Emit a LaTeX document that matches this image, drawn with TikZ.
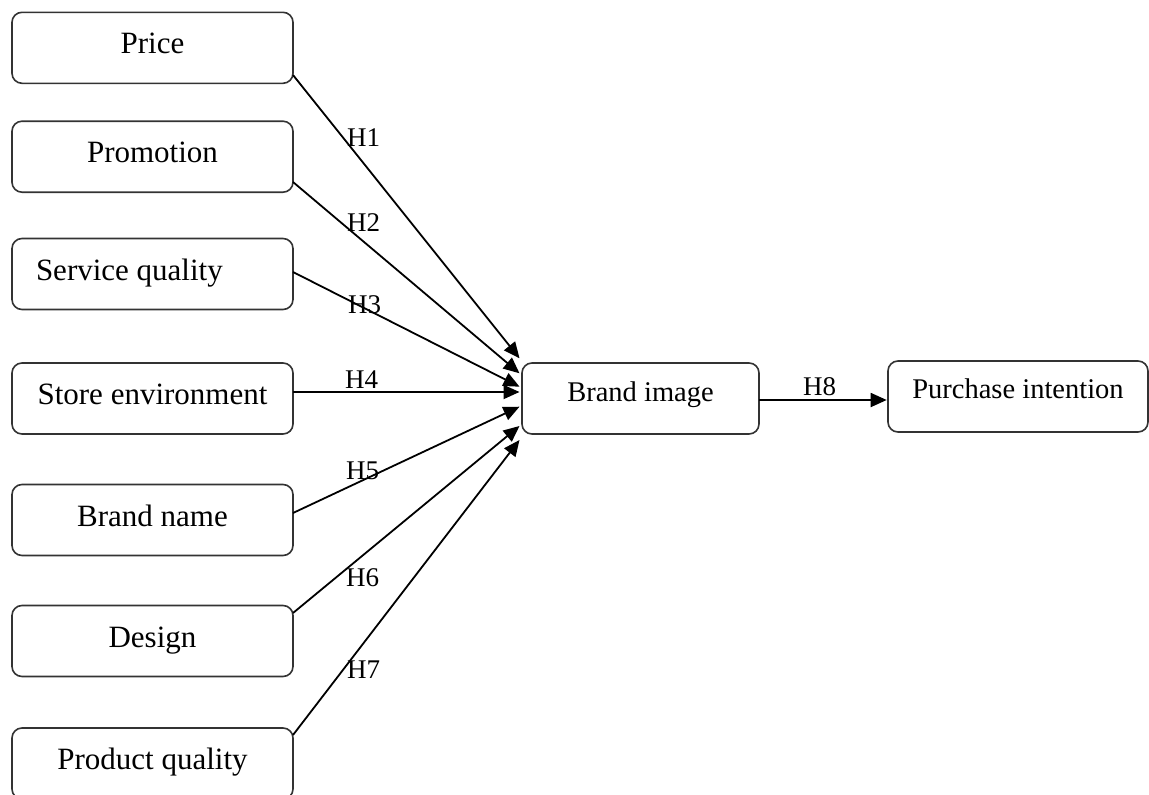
\documentclass[tikz,border=0pt]{standalone}
\usepackage{fontspec}
\setmainfont{Liberation Serif}
\usetikzlibrary{arrows.meta,calc}

\begin{document}
\begin{tikzpicture}[x=1pt,y=-1pt,
  factor/.style={draw=black!80, line width=1.6pt, rounded corners=10pt,
    minimum width=281pt, minimum height=71pt, inner sep=0pt, outer sep=0pt,
    font=\fontsize{31}{36}\selectfont, text height=21pt, text depth=9pt},
  outcome/.style={draw=black!80, line width=1.6pt, rounded corners=10pt,
    minimum height=71pt, inner sep=0pt, outer sep=0pt,
    font=\fontsize{28.5}{32}\selectfont, text height=19pt},
  hyp/.style={inner sep=0pt, anchor=base west, font=\fontsize{27}{30}\selectfont},
  link/.style={line width=1.8pt, black, -{Triangle[length=16pt,width=14pt]}}
]
\useasboundingbox (0,0) rectangle (1149,795);
\clip (0,0) rectangle (1149,795);

% antecedent constructs
\node[factor] (price) at (152.5,47.8) {Price};
\node[factor] (promo) at (152.5,156.7) {Promotion};
\node[factor, text width=233pt, inner xsep=24pt, align=flush left] (serv) at (152.5,274) {Service quality};
\node[factor] (store) at (152.5,398.5) {Store environment};
\node[factor] (bname) at (152.5,520) {Brand name};
\node[factor] (design) at (152.5,641) {Design};
\node[factor] (pqual) at (152.5,763.5) {Product quality};

% mediator and outcome
\node[outcome, minimum width=237pt, text depth=13pt] (bimg) at (640.5,398.5) {Brand image};
\node[outcome, minimum width=260pt, text depth=16pt] (pint) at (1018,396.5) {Purchase intention};

% hypothesised paths
\draw[link] ($(price.east)+(0,27.2)$) -- ($(bimg.west)+(-2.5,-40.2)$);
\draw[link] ($(promo.east)+(0,25.3)$) -- ($(bimg.west)+(-2.5,-25.2)$);
\draw[link] ($(serv.east)+(0,-2)$) -- ($(bimg.west)+(-2.5,-11.8)$);
\draw[link] ($(store.east)+(0,-6.5)$) -- ($(bimg.west)+(-2.5,-6.5)$);
\draw[link] ($(bname.east)+(0,-7)$) -- ($(bimg.west)+(-2.5,8.2)$);
\draw[link] ($(design.east)+(0,-28)$) -- ($(bimg.west)+(-2.5,27.5)$);
\draw[link] ($(pqual.east)+(0,-28.5)$) -- ($(bimg.west)+(-2.5,41.5)$);
\draw[link] ($(bimg.east)+(0,1.5)$) -- ($(pint.west)+(-1.3,3.5)$);

% hypothesis labels
\node[hyp] (h1) at (347,146.7) {H1};
\node[hyp] (h2) at (347,231.7) {H2};
\node[hyp] (h3) at (348,313.3) {H3};
\node[hyp] (h4) at (345,388.3) {H4};
\node[hyp] (h5) at (346,479.3) {H5};
\node[hyp] (h6) at (346,586.7) {H6};
\node[hyp] (h7) at (347,678.3) {H7};
\node[hyp] (h8) at (803,395.7) {H8};
\end{tikzpicture}
\end{document}
